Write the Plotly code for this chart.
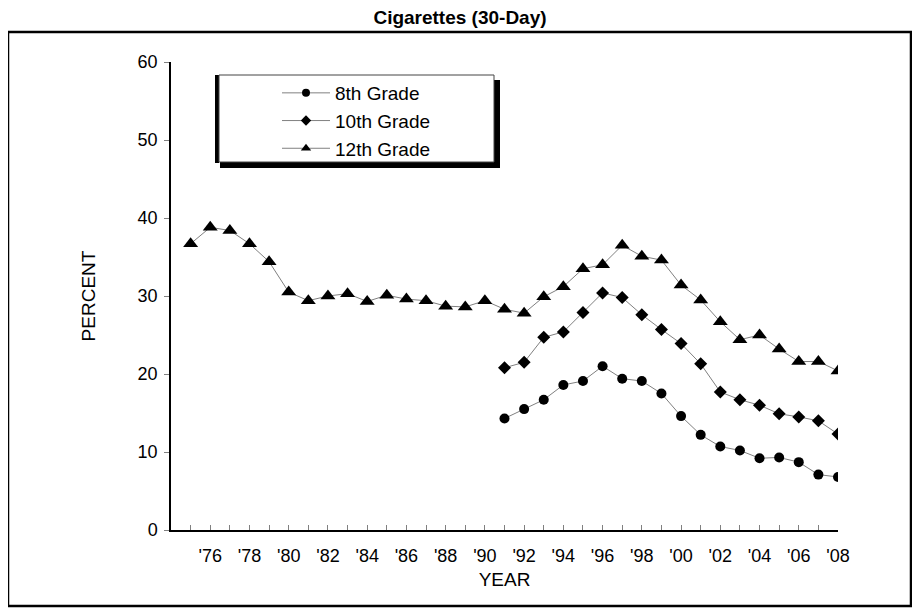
import plotly.graph_objects as go

# ---------------- data ----------------
years_12 = list(range(1975, 2009))
grade12 = [36.7, 38.8, 38.4, 36.7, 34.4, 30.5, 29.4, 30.0, 30.3, 29.3,
           30.1, 29.6, 29.4, 28.7, 28.6, 29.4, 28.3, 27.8, 29.9, 31.2,
           33.5, 34.0, 36.5, 35.1, 34.6, 31.4, 29.5, 26.7, 24.4, 25.0,
           23.2, 21.6, 21.6, 20.4]
years_8_10 = list(range(1991, 2009))
grade10 = [20.8, 21.5, 24.7, 25.4, 27.9, 30.4, 29.8, 27.6, 25.7, 23.9,
           21.3, 17.7, 16.7, 16.0, 14.9, 14.5, 14.0, 12.3]
grade8 = [14.3, 15.5, 16.7, 18.6, 19.1, 21.0, 19.4, 19.1, 17.5, 14.6,
          12.2, 10.7, 10.2, 9.2, 9.3, 8.7, 7.1, 6.8]
tick_years = list(range(1976, 2009, 2))
tick_labels = ["'" + str(y)[2:] for y in tick_years]
y_ticks = [0, 10, 20, 30, 40, 50, 60]
series_names = ["8th Grade", "10th Grade", "12th Grade"]

# ---------------- geometry helpers ----------------
W, H = 920, 615
OFF = 8  # page body margin: screen = figure + OFF
# plot area in screen pixels: x 171..838, y 62..530
L = 171 - OFF
R = W - (838 - OFF)
T = 62 - OFF
B = H - (530 - OFF)
PW, PH = W - L - R, H - T - B

def px_x(p):  # screen px -> paper
    return (p - OFF - L) / PW

def px_y(p):
    return (H - B - (p - OFF)) / PH

FONT = "Liberation Sans, Arial, sans-serif"
LINE_C = "#808080"

fig = go.Figure()

# plotted series (no legend)
fig.add_trace(go.Scatter(x=years_8_10, y=grade8, mode="lines+markers",
                         line=dict(color=LINE_C, width=1),
                         marker=dict(symbol="circle", size=10, color="black"),
                         showlegend=False, name=series_names[0]))
fig.add_trace(go.Scatter(x=years_8_10, y=grade10, mode="lines+markers",
                         line=dict(color=LINE_C, width=1),
                         marker=dict(symbol="diamond", size=10, color="black"),
                         showlegend=False, name=series_names[1]))
fig.add_trace(go.Scatter(x=years_12, y=grade12, mode="lines+markers",
                         line=dict(color=LINE_C, width=1),
                         marker=dict(symbol="triangle-up", size=13, color="black"),
                         showlegend=False, name=series_names[2]))

# legend entries with smaller symbols
leg_syms = [("circle", 8), ("diamond", 8), ("triangle-up", 9)]
for i, (sym, sz) in enumerate(leg_syms):
    fig.add_trace(go.Scatter(x=[None], y=[None], mode="lines+markers",
                             line=dict(color=LINE_C, width=1),
                             marker=dict(symbol=sym, size=sz, color="black"),
                             name=series_names[i], legendgroup=str(i),
                             showlegend=True))

shapes = [
    # outer chart border
    dict(type="rect", xref="paper", yref="paper",
         x0=px_x(8), x1=px_x(911), y0=px_y(606), y1=px_y(32),
         line=dict(color="black", width=2.5), fillcolor="rgba(0,0,0,0)"),
    # legend shadow
    dict(type="rect", xref="paper", yref="paper",
         x0=px_x(220), x1=px_x(500), y0=px_y(168), y1=px_y(80),
         line=dict(width=0), fillcolor="black"),
    dict(type="rect", xref="paper", yref="paper",
         x0=px_x(215), x1=px_x(219), y0=px_y(163), y1=px_y(75),
         line=dict(width=0), fillcolor="black"),
    # legend box
    dict(type="rect", xref="paper", yref="paper",
         x0=px_x(219), x1=px_x(494), y0=px_y(162), y1=px_y(75),
         line=dict(color="#444444", width=1), fillcolor="white"),
]

fig.update_layout(
    width=W, height=H,
    margin=dict(l=L, r=R, t=T, b=B),
    paper_bgcolor="white", plot_bgcolor="white",
    font=dict(family=FONT, size=18, color="black"),
    title=dict(text="<b>Cigarettes (30-Day)</b>", x=(460 - OFF) / W,
               xref="container", xanchor="center",
               y=1 - (17 - OFF) / H, yref="container",
               yanchor="middle", font=dict(size=19, family=FONT)),
    shapes=shapes,
    showlegend=True,
    legend=dict(x=px_x(277), y=px_y(74), xanchor="left", yanchor="top",
                bgcolor="rgba(0,0,0,0)", borderwidth=0,
                font=dict(size=19, family=FONT),
                itemwidth=48, tracegroupgap=4, traceorder="normal"),
    xaxis=dict(range=[1974, 2008], tickmode="array", tickvals=tick_years,
               ticktext=tick_labels, ticks="inside", ticklen=5,
               tickcolor=LINE_C, showline=True, linecolor="black", linewidth=1.5,
               showgrid=False, zeroline=False, automargin=False,
               ticklabelstandoff=9,
               minor=dict(tickmode="linear", tick0=1975, dtick=1,
                          ticks="inside", ticklen=5, tickcolor=LINE_C,
                          showgrid=False),
               title=dict(text="YEAR", standoff=7, font=dict(size=19))),
    yaxis=dict(range=[0, 60], tickmode="array", tickvals=y_ticks,
               ticks="outside", ticklen=5, tickcolor=LINE_C,
               showline=True, linecolor="black", linewidth=1.5,
               showgrid=False, zeroline=False, automargin=False,
               ticklabelstandoff=3,
               title=dict(text="PERCENT", standoff=37, font=dict(size=19))),
)

fig.write_html("out.html")
